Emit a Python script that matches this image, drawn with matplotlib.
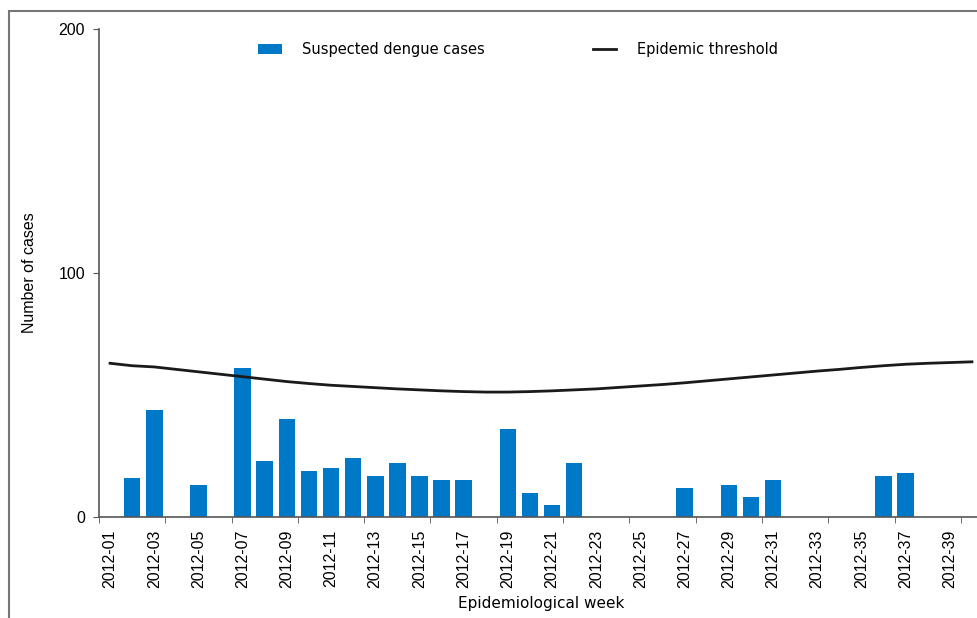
import matplotlib.pyplot as plt
import matplotlib.patches as mpatches
import numpy as np

# Epidemiological weeks 2012-01 .. 2012-40
weeks = [f'2012-{w:02d}' for w in range(1, 41)]

# Suspected dengue cases per week (0 where no bar)
cases = [0, 16, 44, 0, 13, 0, 61, 23, 40, 19,
         20, 24, 17, 22, 17, 15, 15, 0, 36, 10,
         5, 22, 0, 0, 0, 0, 12, 0, 13, 8,
         15, 0, 0, 0, 0, 17, 18, 0, 0, 0]

# Epidemic threshold per week
threshold = [63, 62, 61.5, 60.5, 59.5, 58.5, 57.5, 56.5, 55.5, 54.7,
             54, 53.5, 53, 52.5, 52.1, 51.7, 51.4, 51.2, 51.2, 51.4,
             51.7, 52.1, 52.5, 53.1, 53.7, 54.3, 55, 55.8, 56.6, 57.4,
             58.2, 59, 59.8, 60.5, 61.3, 62, 62.6, 63, 63.3, 63.6]

x = np.arange(1, len(weeks) + 1)

fig = plt.figure(figsize=(9.78, 6.18), dpi=100)
ax = fig.add_axes([99 / 978, 101 / 618, 884 / 978, 488 / 618])

bars = ax.bar(x, cases, width=0.75, color='#0078C8', label='Suspected dengue cases', zorder=2)
line, = ax.plot(x, threshold, color='#1a1a1a', linewidth=2, label='Epidemic threshold', zorder=3)

ax.set_xlim(0.5, 40.5)
ax.set_ylim(0, 200)
ax.set_yticks([0, 100, 200])

# labels every other week, tick marks every third category boundary
ax.set_xticks(x[::2])
ax.set_xticklabels(weeks[::2], rotation=90, fontsize=11.5, family='Liberation Sans')
ax.set_xticks(np.arange(0.5, 41, 3), minor=True)
ax.tick_params(axis='x', which='major', length=0, pad=9)
ax.tick_params(axis='x', which='minor', length=4, color='#555555')
ax.tick_params(axis='y', length=4, pad=6, labelsize=11.5, color='#555555')
for lab in ax.get_yticklabels():
    lab.set_family('Liberation Sans')

for s in ['top', 'right']:
    ax.spines[s].set_visible(False)
for s in ['left', 'bottom']:
    ax.spines[s].set_color('#555555')
    ax.spines[s].set_linewidth(1.2)

ax.set_xlabel('Epidemiological week', fontsize=11)
ax.xaxis.set_label_coords(0.5, -79 / 488)
ax.set_ylabel('Number of cases', fontsize=11.5, family='Liberation Sans')
ax.yaxis.set_label_coords(-62 / 884, 0.5)

ax.legend(handles=[bars, line], loc='upper center', bbox_to_anchor=(0.474, 1.0), ncol=2,
          frameon=False, fontsize=10.5, handlelength=1.6, handletextpad=1.4, columnspacing=7.4)

# outer frame of the picture
fig.patches.append(mpatches.Rectangle((9 / 978, -0.1), 1.2, (618 - 11) / 618 + 0.1,
                                      transform=fig.transFigure, fill=False,
                                      edgecolor='#777777', linewidth=1.5))

fig.savefig('out.png', dpi=100)
